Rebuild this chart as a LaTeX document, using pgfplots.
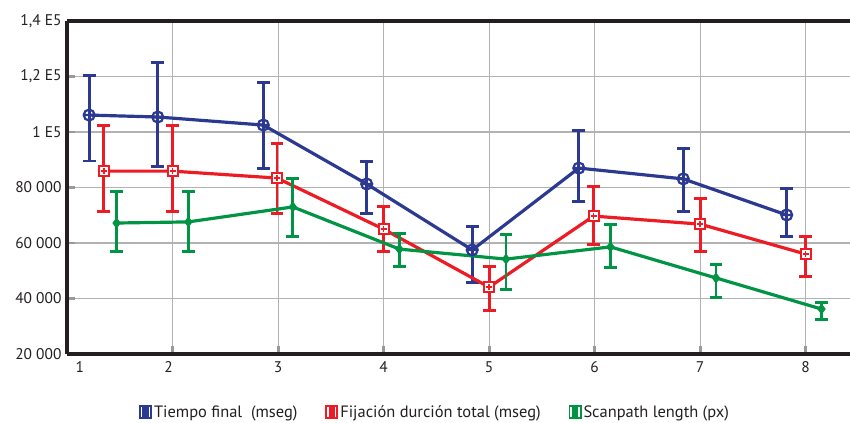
\documentclass[border=0pt]{standalone}
\usepackage{pgfplots}
\pgfplotsset{compat=1.18}
\usepackage{pgfplotstable}
\usepackage{fontspec}
\setmainfont{PT Sans}
\usetikzlibrary{calc}
\definecolor{cblue}{RGB}{43,57,144}
\definecolor{cred}{RGB}{237,28,36}
\definecolor{cgreen}{RGB}{0,148,68}
\definecolor{ctext}{RGB}{35,31,32}

\pgfplotstableread{
x y ep em
1.21 106100 14400 16550
1.86 105400 19800 17700
2.86 102500 15200 15500
3.84 81260 7940 10460
4.84 57500 8600 11900
5.85 87000 13400 12200
6.84 83100 10800 11600
7.82 70100 9400 7900
}\blue
\pgfplotstableread{
x y ep em
1.35 85900 16600 14700
2.00 85900 16600 14700
2.99 83400 12600 12600
4.00 65000 8000 8200
5.00 44100 7300 8600
5.99 69700 10800 10400
7.00 66800 9100 10000
8.00 56000 6200 7900
}\red
\pgfplotstableread{
x y ep em
1.47 67200 11200 10400
2.15 67600 11100 10800
3.14 73000 10400 10500
4.15 57800 5800 6100
5.16 54200 9000 10800
6.15 58600 7900 7600
7.15 47400 5000 6900
8.15 36200 2500 3600
}\green

\begin{document}
\begin{tikzpicture}[x=1bp,y=1bp]
\begin{axis}[
  name=ax,
  scale only axis,
  width=783bp, height=333bp,
  xmin=1, xmax=8.42,
  ymin=20000, ymax=140000,
  axis x line*=bottom, axis y line*=left,
  axis line style={line width=3.2pt, color=ctext, -},
  xtick={1,...,8},
  xticklabels={\hspace*{26pt}1,2\hspace*{8pt},3,4,5,6,7,8},
  ytick={20000,40000,...,140000},
  yticklabels={{20 000},{40 000},{60 000},{80 000},{1 E5},{1,2 E5},{1,4 E5}},
  scaled y ticks=false,
  tick align=inside,
  major tick length=8pt,
  tick style={line width=3pt, color=gray!80},
  grid=major,
  major grid style={line width=1.1pt, color=gray!60},
  ticklabel style={font=\fontsize{15.5}{17}\selectfont, text=ctext},
  yticklabel style={xshift=-2pt},
  xticklabel style={yshift=-4pt},
  /pgf/number format/assume math mode=true,
  clip=false,
  legend style={at={(0.47,-0.174)}, anchor=center, draw=none, fill=none,
    legend columns=3, font=\fontsize{16.5}{18}\selectfont, text=ctext,
    /tikz/every even column/.append style={column sep=26pt},
    inner sep=0pt},
  legend image code/.code={
    \fill[#1, draw=none] (0pt,-7pt) rectangle (13pt,7pt);
    \draw[white, line width=1.3pt] (2.5pt,-5pt) -- (2.5pt,5pt);
    \draw[white, line width=1.3pt] (10.5pt,-5pt) -- (10.5pt,5pt);
  },
  every axis plot/.append style={line width=3.2pt},
  error bars/error bar style={line width=3pt, solid},
  error bars/error mark options={line width=3pt, mark size=6.5pt, rotate=90, solid},
]
\addplot[color=cblue, mark=oplus, mark size=5.5pt, mark options={fill=white, line width=2.2pt},
  error bars/.cd, y dir=both, y explicit]
  table[x=x, y=y, y error plus=ep, y error minus=em] {\blue};
\addlegendentry{Tiempo final~~(mseg)}
\addplot[color=cred, mark=square*, mark size=5pt, mark options={fill=white, line width=2pt},
  error bars/.cd, y dir=both, y explicit]
  table[x=x, y=y, y error plus=ep, y error minus=em] {\red};
\addlegendentry{Fijación durción total (mseg)}
\addplot[color=cgreen, mark=diamond*, mark size=4.8pt, mark options={line width=1pt},
  error bars/.cd, y dir=both, y explicit]
  table[x=x, y=y, y error plus=ep, y error minus=em] {\green};
\addlegendentry{Scanpath length (px)}
\addplot[forget plot, only marks, color=cred, mark=+, mark size=3pt, mark options={line width=1.6pt}]
  table[x=x, y=y] {\red};
\draw[line width=3.2pt, color=ctext] (rel axis cs:0,1) -- (rel axis cs:1,1);
\end{axis}
\pgfresetboundingbox
\path ($(ax.south west)+(-67bp,-69bp)$) rectangle ($(ax.north east)+(0,21bp)$);
\end{tikzpicture}
\end{document}
